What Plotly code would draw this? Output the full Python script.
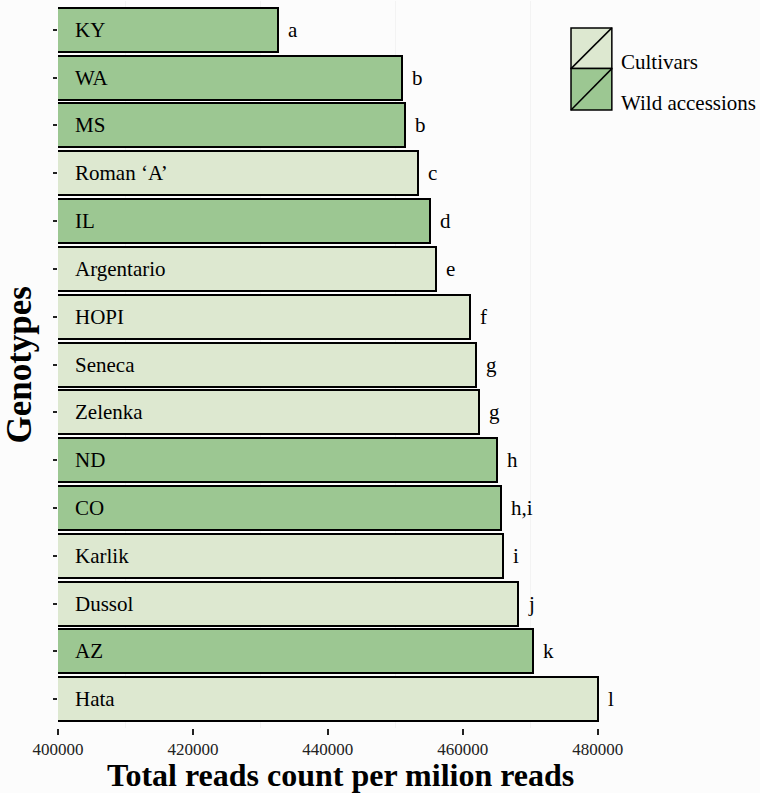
import plotly.graph_objects as go

# data, top to bottom
genotypes = ["KY", "WA", "MS", "Roman ‘A’", "IL", "Argentario", "HOPI", "Seneca",
             "Zelenka", "ND", "CO", "Karlik", "Dussol", "AZ", "Hata"]
reads = [432600, 451000, 451500, 453400, 455100, 456000, 461000, 461900,
         462400, 465000, 465600, 465900, 468200, 470400, 480100]
groups = ["Wild accessions", "Wild accessions", "Wild accessions", "Cultivars",
          "Wild accessions", "Cultivars", "Cultivars", "Cultivars", "Cultivars",
          "Wild accessions", "Wild accessions", "Cultivars", "Cultivars",
          "Wild accessions", "Cultivars"]
letters = ["a", "b", "b", "c", "d", "e", "f", "g", "g", "h", "h,i", "i", "j", "k", "l"]
x_ticks = [400000, 420000, 440000, 460000, 480000]

colors = {"Cultivars": "#DDE8D0", "Wild accessions": "#9CC792"}
FONT = "Liberation Serif"
X_MIN, X_MAX = 400000, 483600

fig = go.Figure()
fig.add_trace(go.Bar(x=reads, y=genotypes, orientation='h',
                     marker_color=[colors[g] for g in groups],
                     marker_line=dict(width=2, color='black'),
                     width=0.92, showlegend=False))

# genotype names inside the bars, significance letters after them
for g, v, l in zip(genotypes, reads, letters):
    fig.add_annotation(x=X_MIN, y=g, text=g, showarrow=False, xanchor='left',
                       xshift=15, font=dict(family=FONT, size=21, color='black'))
    fig.add_annotation(x=v, y=g, text=l, showarrow=False, xanchor='left',
                       xshift=8, font=dict(family=FONT, size=21, color='black'))

# hand-drawn legend (boxes with a diagonal, like the ggplot keys)
legend_items = [("Cultivars", 0.963, 0.907), ("Wild accessions", 0.907, 0.850)]
for name, top, bottom in legend_items:
    fig.add_shape(type='rect', xref='paper', yref='paper', x0=0.9096, x1=0.982,
                  y0=bottom, y1=top, fillcolor=colors[name],
                  line=dict(color='black', width=1.5))
    fig.add_shape(type='line', xref='paper', yref='paper', x0=0.9096, x1=0.982,
                  y0=bottom, y1=top, line=dict(color='black', width=1.5))
    fig.add_annotation(xref='paper', yref='paper', x=0.995, y=(top + bottom) / 2,
                       text=name, showarrow=False, xanchor='left',
                       font=dict(family=FONT, size=21, color='black'))

# axis titles
fig.add_annotation(xref='paper', yref='paper', x=0.5, y=-0.064, yanchor='middle',
                   text="<b>Total reads count per milion reads</b>", showarrow=False,
                   borderpad=0, font=dict(family=FONT, size=32, color='black'))
fig.add_annotation(xref='paper', yref='paper', x=-0.069, y=0.5, textangle=-90,
                   xanchor='center', yanchor='middle', borderpad=0,
                   text="<b>Genotypes</b>", showarrow=False,
                   font=dict(family=FONT, size=35, color='black'))

fig.update_xaxes(range=[X_MIN, X_MAX], tickvals=x_ticks, tickformat='d',
                 ticks='outside', ticklen=6, tickwidth=2, tickcolor='#222',
                 showline=False, zeroline=False, showgrid=False,
                 minor=dict(showgrid=True, gridcolor='#F3F3F3',
                            tickvals=[410000, 430000, 450000, 470000]),
                 tickfont=dict(family=FONT, size=17, color='#222'))
fig.update_yaxes(categoryorder='array', categoryarray=genotypes, autorange=False,
                 range=[14.6, -0.6], showticklabels=False, ticks='outside', ticklen=4,
                 tickwidth=1.5, tickcolor='#222', showline=False, showgrid=False)
fig.update_layout(width=760, height=793, plot_bgcolor='#FCFCFC', paper_bgcolor='#FCFCFC',
                  margin=dict(l=58, r=138, t=1, b=65), bargap=0,
                  font=dict(family=FONT))

fig.write_html("out.html", config={'displayModeBar': False},
               post_script="document.body.style.margin='0';")
